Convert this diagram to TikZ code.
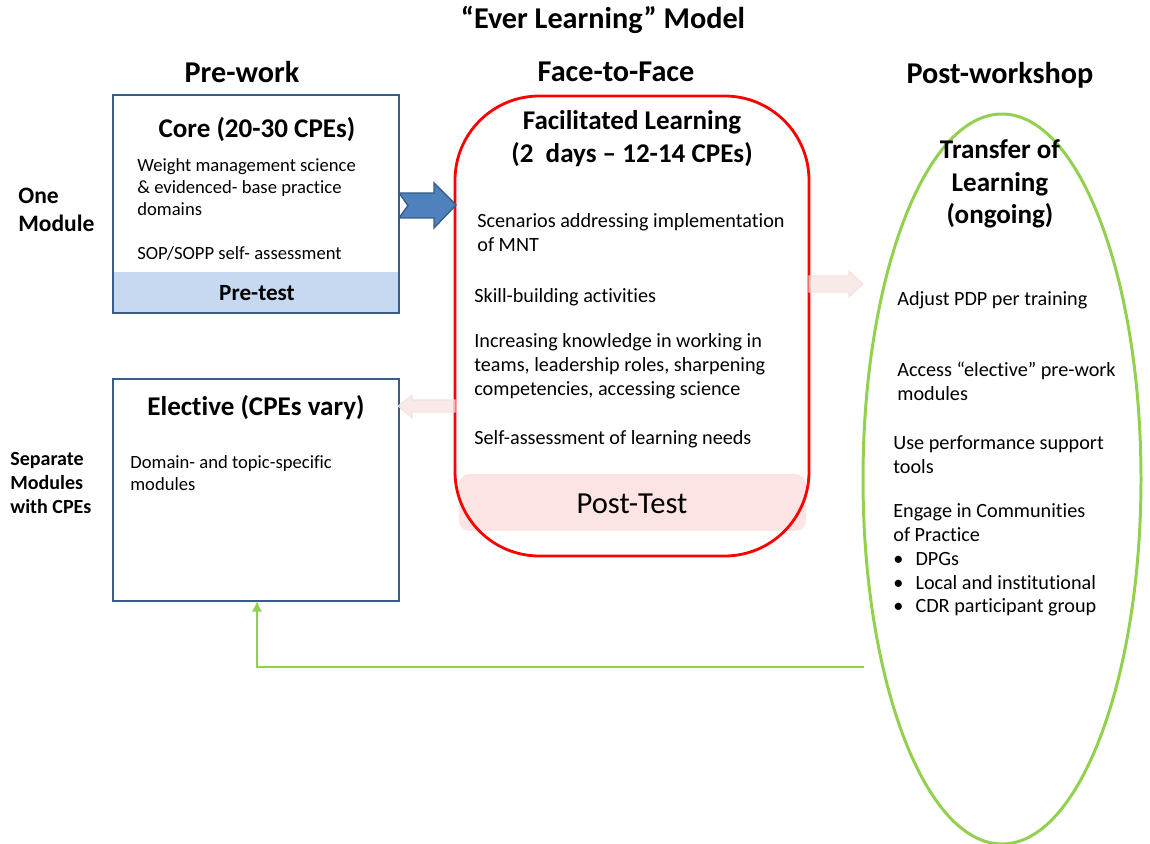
\documentclass[tikz,border=0pt]{standalone}
\usepackage{fontspec}
\setmainfont{Carlito}[Ligatures=NoCommon]
\definecolor{boxblue}{HTML}{385D8A}
\definecolor{arrowblue}{HTML}{4F81BD}
\definecolor{testblue}{HTML}{C6D9F1}
\definecolor{testpink}{HTML}{FDE4E4}
\definecolor{fadepink}{HTML}{F2DCDB}
\definecolor{leafgreen}{HTML}{92D050}
\usetikzlibrary{arrows.meta}
\tikzset{
  head/.style={font=\fontsize{17.2}{20}\selectfont\bfseries},
  boxtitle/.style={font=\fontsize{15.4}{18.7}\selectfont\bfseries, align=center},
  side/.style={font=\fontsize{13.4}{15.9}\selectfont\bfseries, anchor=west, align=left, inner sep=0pt},
  body/.style={font=\fontsize{11.5}{13.6}\selectfont, anchor=west, align=left, inner sep=0pt},
  smallbody/.style={body, font=\fontsize{10.6}{12.7}\selectfont},
  fadearrow/.style={fill=fadepink, fill opacity=0.6, draw=fadepink, draw opacity=0.8, line width=0.6pt}
}
\begin{document}
\begin{tikzpicture}[x=0.02cm,y=-0.02cm]
      \useasboundingbox (0,0) rectangle (1150,844);

      % column heads
      \node[head] (title) at (603,20) {“Ever Learning” Model};
      \node[head] (prework) at (242,72) {Pre-work};
      \node[head] (f2f) at (616,72) {Face-to-Face};
      \node[head] (postws) at (1000,75) {Post-workshop};

      % pre-work boxes
      \fill[testblue] (113,272) rectangle (399,313);
      \draw[boxblue, line width=1.2pt] (113,95) rectangle (399,313);
      \node[boxtitle] (coret) at (257,130) {Core (20-30 CPEs)};
      \node[smallbody] (w1) at (137,187) {Weight management science\\\& evidenced- base practice\\domains};
      \node[smallbody] (sop) at (137,253) {SOP/SOPP self- assessment};
      \node[font=\fontsize{13.2}{16}\selectfont\bfseries] (pretest) at (257,293) {Pre-test};

      \draw[boxblue, line width=1.2pt] (113,379) rectangle (399,601);
      \coordinate (elbot) at (257,601);
      \node[boxtitle] (elt) at (256,408) {Elective (CPEs vary)};
      \node[smallbody] (dom) at (130,473) {Domain- and topic-specific\\modules};

      \node[side] (one) at (18,210) {One\\Module};
      \node[side, font=\fontsize{11.4}{13.6}\selectfont\bfseries] (sep) at (10,483) {Separate\\Modules\\with CPEs};

      % face-to-face
      \fill[testpink, rounded corners=6] (459,474) rectangle (806,531);
      \draw[red, line width=1.6pt, rounded corners=48] (455,96) rectangle (809,556);
      \node[boxtitle] (fl) at (632,138.5) {Facilitated Learning\\(2~ days – 12-14 CPEs)};
      \node[body] (scen) at (477,233) {Scenarios addressing implementation\\of MNT};
      \node[body] (skill) at (474,297) {Skill-building activities};
      \node[body] (incr) at (474,366) {Increasing knowledge in working in\\teams, leadership roles, sharpening\\competencies, accessing science};
      \node[body] (self) at (474,439) {Self-assessment of learning needs};
      \node[font=\fontsize{17.4}{20}\selectfont] (posttest) at (632,504) {Post-Test};

      % post-workshop
      \draw[leafgreen, line width=1.7pt] (1002,479) ellipse (139 and 365);
      \coordinate (ell) at (864,667);
      \node[boxtitle] (tol) at (1000,184) {Transfer of\\Learning\\(ongoing)};
      \node[body] (adj) at (897,300) {Adjust PDP per training};
      \node[body] (acc) at (897,381) {Access “elective” pre-work\\modules};
      \node[body] (use) at (893,455) {Use performance support\\tools};
      \node[body] (eng) at (893,523) {Engage in Communities\\of Practice};
      \foreach \y/\txt in {559/DPGs, 583/Local and institutional, 607/CDR participant group}
        \node[body] at (893,\y) {\textbullet\hspace{0.6em}\txt};

      % block arrows
      \filldraw[draw=boxblue, fill=arrowblue, line width=0.8pt]
        (399,193) -- (434,193) -- (434,183) -- (456,205) -- (434,228) -- (434,218) -- (399,218) -- (408,205.5) -- cycle;
      \path[fadearrow] (809,276) -- (849,276) -- (849,271) -- (863,284) -- (849,297) -- (849,292) -- (809,292) -- cycle;
      \path[fadearrow] (455,400) -- (412,400) -- (412,395) -- (398,406) -- (412,418) -- (412,412) -- (455,412) -- cycle;

      \draw[leafgreen, line width=1.2pt, -{Latex[length=6pt,width=6pt]}] (ell) -- (257,667) -- (elbot);
    \end{tikzpicture}
\end{document}
